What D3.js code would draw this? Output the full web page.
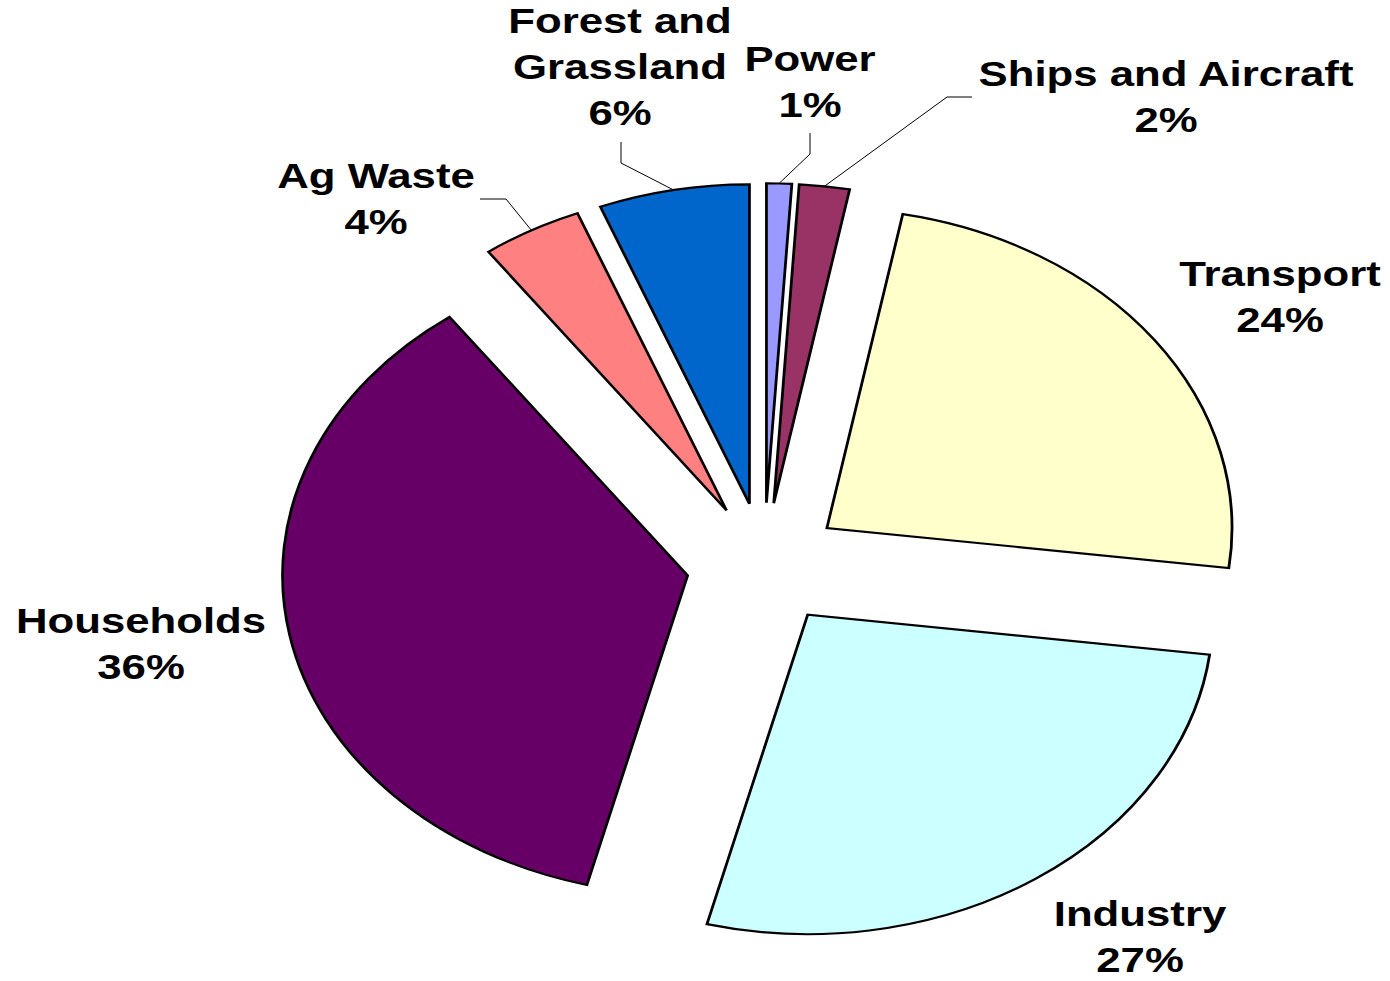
<!DOCTYPE html>
<html>
<head>
<meta charset="utf-8">
<script src="https://cdn.jsdelivr.net/npm/d3@7"></script>
<style>
  html, body { margin: 0; padding: 0; background: #fff; }
  svg { display: block; }
  .lbl { font-family: "Liberation Sans", Arial, sans-serif; font-weight: bold; font-size: 34.5px; fill: #000; }
</style>
</head>
<body>
<svg id="chart" width="1390" height="981"></svg>
<script>
// Emission sources and their shares (%), clockwise from 12 o'clock
const categories = ["Power", "Ships and Aircraft", "Transport", "Industry", "Households", "Ag Waste", "Forest and Grassland"];
const shares = [1, 2, 24, 27, 36, 4, 6];
const sliceColors = ["#9999FF", "#993366", "#FFFFCC", "#CCFFFF", "#660066", "#FF8080", "#0066CC"];
// How each category name breaks over lines in its label
const labelLines = [["Power"], ["Ships and Aircraft"], ["Transport"], ["Industry"], ["Households"], ["Ag Waste"], ["Forest and", "Grassland"]];

// Layout: the pie is drawn as a circle and stretched horizontally into an ellipse
const W = 1390, H = 981;
const cx = 764, cy = 564;
const radius = 319.5;
const stretchX = 1.268;
const explode = 61.3;        // every slice is pulled out by this distance
const lineHeight = 46;

// Label anchors (centre x, first baseline y) and optional leader elbows, in page pixels
const labelLayout = {
  "Power":                { x: 810,  y: 71,  leader: [[810, 133], [810, 154]] },
  "Ships and Aircraft":   { x: 1166, y: 86,  leader: [[972, 97], [947, 97]] },
  "Transport":            { x: 1280, y: 286 },
  "Industry":             { x: 1140, y: 926 },
  "Households":           { x: 141,  y: 633 },
  "Ag Waste":             { x: 376,  y: 188, leader: [[480, 199], [506, 199]] },
  "Forest and Grassland": { x: 620,  y: 33,  leader: [[621, 142], [621, 163]] }
};

const data = categories.map((c, i) => ({ name: c, value: shares[i], color: sliceColors[i], lines: labelLines[i] }));

const svg = d3.select("#chart");

const pie = d3.pie().sort(null).value(d => d.value).startAngle(0).endAngle(2 * Math.PI);
const arcs = pie(data);
const arc = d3.arc().innerRadius(0).outerRadius(radius);

const pieG = svg.append("g")
  .attr("transform", `translate(${cx},${cy}) scale(${stretchX},1)`);

const mid = a => (a.startAngle + a.endAngle) / 2;
const offset = (a, d) => [d * Math.sin(mid(a)), -d * Math.cos(mid(a))];

pieG.selectAll("path.slice")
  .data(arcs)
  .join("path")
  .attr("class", "slice")
  .attr("transform", a => { const [ox, oy] = offset(a, explode); return `translate(${ox},${oy})`; })
  .attr("d", arc)
  .attr("fill", a => a.data.color)
  .attr("stroke", "#000")
  .attr("stroke-width", 2.2)
  .attr("stroke-linejoin", "miter");

// Page position of the outer arc midpoint of a slice (where a leader line meets it)
function outerPoint(a) {
  const [ox, oy] = offset(a, explode + radius);
  return [cx + ox * stretchX, cy + oy];
}

// Leader lines
const leaderG = svg.append("g");
arcs.forEach(a => {
  const lay = labelLayout[a.data.name];
  if (!lay.leader) return;
  const pts = lay.leader.concat([outerPoint(a)]);
  leaderG.append("path")
    .attr("d", d3.line()(pts))
    .attr("fill", "none")
    .attr("stroke", "#000")
    .attr("stroke-width", 1);
});

// Labels: name lines plus the percentage, in the same horizontal stretch as the pie
const labelG = svg.append("g");
arcs.forEach(a => {
  const lay = labelLayout[a.data.name];
  const lines = a.data.lines.concat([d3.format("d")(a.data.value) + "%"]);
  const t = labelG.append("text")
    .attr("class", "lbl")
    .attr("text-anchor", "middle")
    .attr("transform", `translate(${lay.x},${lay.y}) scale(${stretchX},1)`);
  lines.forEach((ln, i) => {
    t.append("tspan").attr("x", 0).attr("y", i * lineHeight).text(ln);
  });
});
</script>
</body>
</html>
